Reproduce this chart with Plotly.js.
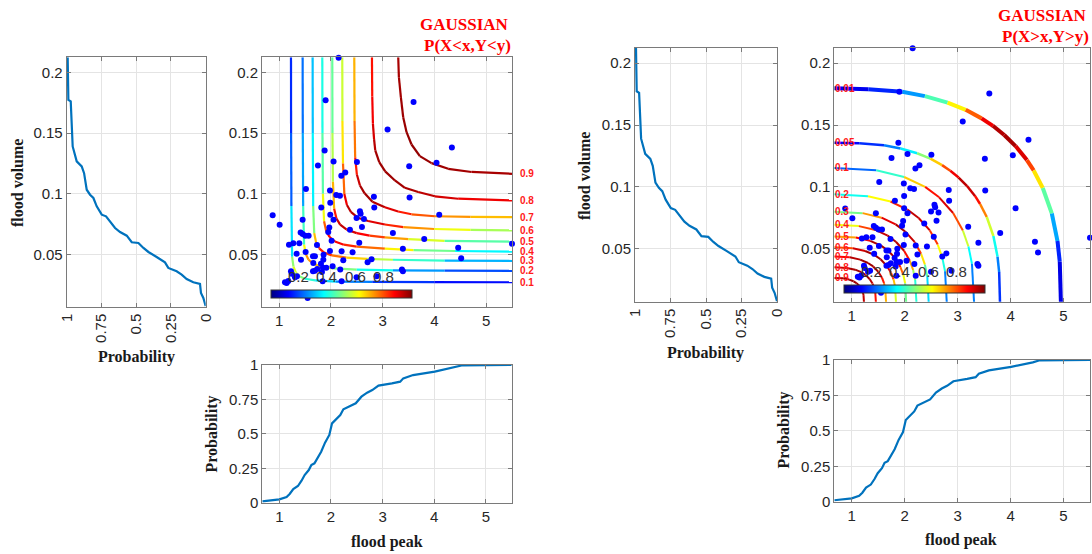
<!DOCTYPE html>
<html><head><meta charset="utf-8">
<script src="https://cdn.plot.ly/plotly-3.0.1.min.js"></script>
<style>html,body{margin:0;padding:0;background:#fff}#chart{width:1092px;height:554px}</style>
</head><body><div id="chart"></div>
<script>
// ---- observed sample (flood peak, flood volume) ----
const peak = [2.15,1.899,3.598,3.096,4.338,1.880,4.042,2.504,2.053,1.751,3.514,2.279,2.202,1.519,1.983,2.105,2.176,2.832,3.521,1.989,1.815,2.839,0.876,1.011,1.989,2.562,2.575,2.053,2.639,2.497,4.094,1.455,2.369,2.601,1.970,1.950,3.199,2.015,1.416,1.455,1.507,1.571,3.804,2.549,1.191,1.275,1.391,5.50,1.732,1.339,1.513,1.655,1.693,1.860,1.983,2.208,2.420,3.392,4.460,1.423,2.240,2.710,2.787,4.518,1.661,1.809,1.855,1.655,1.693,1.848,1.912,1.828,2.182,3.373,3.392,1.230,1.243,1.346,1.307,1.114,1.146,1.178,1.841,2.208,2.497,2.884,1.552,0.670,2.034,1.738];
const volume = [0.212,0.1770,0.1756,0.1529,0.1381,0.1356,0.1255,0.1261,0.1266,0.1233,0.1228,0.1176,0.1148,0.1039,0.1028,0.0990,0.0984,0.0976,0.0970,0.0927,0.0888,0.0888,0.0825,0.0746,0.0828,0.0856,0.0836,0.0787,0.0793,0.0801,0.0828,0.0787,0.0705,0.0727,0.0724,0.0686,0.0678,0.0615,0.0683,0.0670,0.0656,0.0656,0.0628,0.0598,0.0582,0.0593,0.0593,0.0590,0.0579,0.0508,0.0522,0.0486,0.0486,0.0500,0.0530,0.0527,0.0519,0.0549,0.0557,0.0459,0.0453,0.0437,0.0462,0.0470,0.0431,0.0426,0.0459,0.0363,0.0368,0.0393,0.0393,0.0357,0.0377,0.0377,0.0363,0.0363,0.0344,0.0322,0.0314,0.0273,0.0267,0.0284,0.0281,0.0281,0.0314,0.0322,0.0144,0.0070,0.0404,0.0383];

// ---- empirical marginal distributions ----
const peakCdfX = [0.67,1.0,1.14,1.20,1.27,1.36,1.43,1.49,1.57,1.62,1.68,1.73,1.81,1.885,1.968,2.02,2.10,2.18,2.24,2.35,2.48,2.59,2.70,2.80,2.92,3.18,3.34,3.40,3.59,4.01,4.17,4.42,4.55,5.5];
const peakCdfP = [0.01,0.024,0.041,0.063,0.099,0.121,0.160,0.201,0.237,0.274,0.286,0.322,0.370,0.436,0.492,0.576,0.605,0.637,0.678,0.697,0.722,0.770,0.799,0.818,0.850,0.867,0.879,0.903,0.927,0.952,0.964,0.983,0.998,1.0];
const volCdfP = [0.993,0.988,0.971,0.957,0.928,0.892,0.875,0.856,0.832,0.808,0.784,0.748,0.717,0.688,0.652,0.616,0.568,0.532,0.484,0.448,0.412,0.353,0.293,0.269,0.209,0.173,0.137,0.089,0.041,0.034,0.017,0.0];
const volCdfY = [0.2123,0.1773,0.176,0.139,0.1267,0.1226,0.117,0.1034,0.0993,0.0966,0.0897,0.0829,0.0815,0.0774,0.0719,0.0686,0.0656,0.0602,0.0596,0.0555,0.0522,0.0481,0.0437,0.0391,0.0363,0.0336,0.0300,0.0273,0.0259,0.0186,0.0144,0.0076];

// ---- P(X<x,Y<y) contours ----
const cdfLevels = ['0.1','0.2','0.3','0.4','0.5','0.6','0.7','0.8','0.9'];
const cdfX = [
 [1.23,1.232,1.238,1.252,1.278,1.32,1.39,1.5,1.7,2.1,2.8,4.0,5.5],
 [1.455,1.458,1.465,1.483,1.515,1.57,1.66,1.8,2.05,2.5,3.2,4.2,5.5],
 [1.648,1.651,1.659,1.679,1.715,1.775,1.87,2.02,2.3,2.7,3.2,4.2,5.5],
 [1.835,1.838,1.847,1.869,1.91,1.975,2.08,2.25,2.5,3.044,3.6,4.4,5.5],
 [2.028,2.031,2.04,2.064,2.108,2.18,2.3,2.5,2.75,3.044,3.5,4.2,5.5],
 [2.221,2.224,2.235,2.261,2.311,2.391,2.521,2.72,3.044,3.4,4.0,4.7,5.5],
 [2.453,2.458,2.47,2.503,2.563,2.653,2.803,3.044,3.30,3.559,4.01,4.7,5.5],
 [2.794,2.80,2.813,2.835,2.858,2.935,3.05,3.238,3.43,3.688,4.01,4.46,5.5],
 [3.302,3.315,3.353,3.398,3.463,3.559,3.72,3.945,4.267,4.718,5.5]];
const cdfY = [
 [0.2123,0.15,0.09,0.0482,0.0402,0.0356,0.0322,0.0302,0.0288,0.0279,0.0276,0.0274,0.0273],
 [0.2123,0.15,0.09,0.0581,0.0505,0.0458,0.0426,0.0403,0.0387,0.0377,0.0371,0.0368,0.0366],
 [0.2123,0.15,0.09,0.0677,0.0599,0.0552,0.0517,0.0494,0.0476,0.0466,0.0458,0.0451,0.0448],
 [0.2123,0.15,0.1,0.0775,0.0695,0.0645,0.0608,0.0582,0.0566,0.0549,0.0538,0.053,0.0525],
 [0.2123,0.15,0.11,0.0877,0.0797,0.0747,0.0707,0.0677,0.0657,0.0642,0.0627,0.0614,0.0607],
 [0.2123,0.16,0.125,0.0999,0.0909,0.0849,0.0804,0.0777,0.0748,0.0727,0.0711,0.0703,0.0699],
 [0.2123,0.16,0.13,0.1159,0.1069,0.1004,0.0935,0.089,0.0855,0.0832,0.0816,0.081,0.0809],
 [0.2123,0.18,0.1576,0.145,0.1357,0.1261,0.1185,0.111,0.105,0.1015,0.098,0.096,0.0946],
 [0.2123,0.1959,0.1795,0.163,0.1507,0.1406,0.131,0.1253,0.1206,0.118,0.1165]];
const cdfC = [
 [0.15,0.18,0.25,0.45,0.58,0.6,0.55,0.45,0.38,0.3,0.2,0.15,0.12],
 [0.22,0.25,0.32,0.55,0.7,0.75,0.72,0.65,0.55,0.45,0.33,0.22,0.18],
 [0.3,0.33,0.4,0.6,0.78,0.85,0.85,0.8,0.72,0.62,0.5,0.35,0.25],
 [0.38,0.42,0.5,0.72,0.85,0.9,0.9,0.86,0.82,0.72,0.55,0.42,0.32],
 [0.45,0.5,0.6,0.8,0.9,0.94,0.93,0.9,0.85,0.78,0.66,0.52,0.4],
 [0.55,0.6,0.7,0.85,0.93,0.95,0.95,0.93,0.88,0.8,0.66,0.56,0.52],
 [0.68,0.72,0.8,0.9,0.95,0.97,0.96,0.93,0.88,0.82,0.76,0.7,0.68],
 [0.85,0.87,0.9,0.93,0.96,0.97,0.97,0.97,0.96,0.95,0.93,0.9,0.88],
 [0.96,0.96,0.97,0.97,0.98,0.98,0.98,0.97,0.97,0.96,0.96]];

// ---- P(X>x,Y>y) contours ----
const survLevels = ['0.01','0.05','0.1','0.2','0.3','0.4','0.5','0.6','0.7','0.8','0.9'];
const survX = [
 [0.67,1.312,1.954,2.382,2.81,3.152,3.452,3.666,3.88,4.094,4.308,4.436,4.608,4.779,4.886,4.929,4.95],
 [0.67,1.14,1.609,1.922,2.235,2.485,2.705,2.861,3.018,3.174,3.331,3.424,3.55,3.675,3.753,3.784,3.80],
 [0.67,1.462,1.99,2.386,2.65,2.914,3.099,3.204,3.27,3.31],
 [0.67,1.307,1.732,2.051,2.263,2.475,2.624,2.709,2.762,2.794],
 [0.67,1.205,1.562,1.829,2.007,2.186,2.31,2.382,2.426,2.453],
 [0.67,1.135,1.446,1.678,1.833,1.988,2.097,2.159,2.198,2.221],
 [0.67,1.077,1.349,1.553,1.689,1.824,1.919,1.974,2.008,2.028],
 [0.67,1.02,1.253,1.427,1.544,1.66,1.742,1.788,1.818,1.835],
 [0.67,0.963,1.159,1.306,1.404,1.501,1.57,1.609,1.633,1.648],
 [0.67,0.906,1.063,1.18,1.259,1.337,1.392,1.424,1.443,1.455],
 [0.67,0.838,0.95,1.034,1.09,1.146,1.185,1.208,1.222,1.23]];
const survY = [
 [0.1798,0.1789,0.1769,0.1734,0.1682,0.1623,0.1554,0.1494,0.142,0.133,0.1217,0.1133,0.0991,0.0785,0.0562,0.0395,0.007],
 [0.1358,0.1352,0.1336,0.1311,0.1272,0.1228,0.1176,0.1131,0.1076,0.1009,0.0925,0.0862,0.0757,0.0603,0.0437,0.0312,0.007],
 [0.1153,0.1135,0.108,0.100,0.0916,0.0789,0.0647,0.0518,0.0379,0.007],
 [0.094,0.0925,0.0882,0.0817,0.0749,0.0648,0.0534,0.043,0.0318,0.007],
 [0.080,0.0788,0.0751,0.0697,0.064,0.0555,0.0459,0.0372,0.0278,0.007],
 [0.0694,0.0683,0.0652,0.0606,0.0557,0.0484,0.0403,0.0328,0.0248,0.007],
 [0.060,0.0591,0.0564,0.0525,0.0484,0.0422,0.0352,0.0289,0.0221,0.007],
 [0.0512,0.0504,0.0482,0.045,0.0415,0.0363,0.0306,0.0253,0.0196,0.007],
 [0.0437,0.0431,0.0412,0.0385,0.0357,0.0314,0.0266,0.0222,0.0175,0.007],
 [0.035,0.0345,0.0331,0.0311,0.0289,0.0256,0.0219,0.0186,0.015,0.007],
 [0.0264,0.0261,0.0251,0.0237,0.0222,0.0199,0.0173,0.015,0.0125,0.007]];
const survC = [
 [0.1,0.12,0.2,0.35,0.55,0.72,0.85,0.93,0.97,0.95,0.87,0.75,0.55,0.38,0.2,0.12,0.08],
 [0.12,0.14,0.2,0.3,0.42,0.6,0.75,0.85,0.93,0.95,0.9,0.82,0.68,0.48,0.3,0.2,0.15],
 [0.15,0.3,0.55,0.8,0.92,0.9,0.7,0.45,0.3,0.2],
 [0.28,0.5,0.75,0.92,0.95,0.9,0.75,0.5,0.3,0.2],
 [0.38,0.6,0.85,0.95,0.96,0.9,0.75,0.55,0.38,0.3],
 [0.5,0.72,0.9,0.96,0.96,0.92,0.8,0.62,0.45,0.38],
 [0.62,0.82,0.94,0.97,0.97,0.93,0.85,0.7,0.52,0.45],
 [0.72,0.88,0.96,0.97,0.97,0.95,0.88,0.75,0.62,0.55],
 [0.82,0.92,0.97,0.97,0.97,0.95,0.9,0.8,0.72,0.68],
 [0.9,0.95,0.97,0.97,0.97,0.96,0.93,0.9,0.87,0.85],
 [0.95,0.97,0.97,0.97,0.97,0.97,0.96,0.95,0.94,0.93]];
const survWidths = [4,2.5,2,2,2,2,2,2,2,2,2];

const cbTicks = [0.2,0.4,0.6,0.8];

// ---- helpers ----
function jet(t){
  const c = v => Math.round(255*Math.max(0,Math.min(1,v)));
  return 'rgb('+c(1.5-Math.abs(4*t-3))+','+c(1.5-Math.abs(4*t-2))+','+c(1.5-Math.abs(4*t-1))+')';
}
const jetScale = [0,0.125,0.25,0.375,0.5,0.625,0.75,0.875,1].map(t=>[t,jet(t)]);
const traces = [];
function addContour(xs,ys,cs,xa,ya,w){
  for(let i=0;i<xs.length-1;i++){
    traces.push({type:'scatter',mode:'lines',x:[xs[i],xs[i+1]],y:[ys[i],ys[i+1]],xaxis:xa,yaxis:ya,
      line:{color:jet((cs[i]+cs[i+1])/2),width:w},hoverinfo:'skip',showlegend:false});
  }
}
const blue = '#0072BD';
traces.push({type:'scatter',mode:'lines',x:volCdfP,y:volCdfY,xaxis:'x',yaxis:'y',line:{color:blue,width:2.2},showlegend:false});
cdfX.forEach((xs,k)=>addContour(xs,cdfY[k],cdfC[k],'x2','y2',2.2));
traces.push({type:'scatter',mode:'markers',x:peak,y:volume,xaxis:'x2',yaxis:'y2',cliponaxis:false,marker:{color:'#0000ff',size:6},showlegend:false});
traces.push({type:'scatter',mode:'lines',x:peakCdfX,y:peakCdfP,xaxis:'x3',yaxis:'y3',line:{color:blue,width:2.2},showlegend:false});
traces.push({type:'scatter',mode:'lines',x:volCdfP,y:volCdfY,xaxis:'x4',yaxis:'y4',line:{color:blue,width:2.2},showlegend:false});
survX.forEach((xs,k)=>addContour(xs,survY[k],survC[k],'x5','y5',survWidths[k]));
traces.push({type:'scatter',mode:'markers',x:peak,y:volume,xaxis:'x5',yaxis:'y5',cliponaxis:false,marker:{color:'#0000ff',size:6},showlegend:false});
traces.push({type:'scatter',mode:'lines',x:peakCdfX,y:peakCdfP,xaxis:'x6',yaxis:'y6',line:{color:blue,width:2.2},showlegend:false});

// colorbars (invisible markers carrying the scale); labels placed on top as annotations
const CB_LEN = 141;
const cbPos = [{xa:'x2',ya:'y2',left:270.5,bottom:298.5},{xa:'x5',ya:'y5',left:843.5,bottom:293.5}];
cbPos.forEach(p=>{
  traces.push({type:'scatter',mode:'markers',x:[peak[0]],y:[volume[0]],xaxis:p.xa,yaxis:p.ya,hoverinfo:'skip',showlegend:false,
    marker:{color:[0],cmin:0,cmax:1,colorscale:jetScale,opacity:0,showscale:true,
      colorbar:{orientation:'h',x:p.left/1092,y:1-p.bottom/554,xanchor:'left',yanchor:'bottom',xref:'paper',yref:'paper',
        lenmode:'pixels',len:CB_LEN,thicknessmode:'pixels',thickness:8,outlinewidth:1,outlinecolor:'#333',
        xpad:0,ypad:0,ticks:'',showticklabels:false}}});
});

// ---- layout ----
const tickFont = {family:'Liberation Sans, Arial',size:15,color:'#262626'};
function ax(o){return Object.assign({showline:true,mirror:'ticks',linecolor:'#7a7a7a',linewidth:1,ticks:'inside',ticklen:4,
  tickcolor:'#7a7a7a',showgrid:true,gridcolor:'#e4e4e4',gridwidth:1,zeroline:false,tickfont:tickFont,fixedrange:true},o);}
const yVol = [0.0072,0.2123];
const xPeak = [0.67,5.5];
const dx = (a,b)=>[a/1092,b/1092];
const dy = (top,bot)=>[1-bot/554,1-top/554];
const layout = {
  width:1092,height:554,margin:{l:0,r:0,t:0,b:0},paper_bgcolor:'#fff',plot_bgcolor:'#fff',showlegend:false,
  xaxis: ax({domain:dx(66.7,205.7),anchor:'y',range:[1,0],tickvals:[0,0.25,0.5,0.75,1],tickangle:-90}),
  yaxis: ax({domain:dy(57.3,306.7),anchor:'x',range:yVol,tickvals:[0.05,0.1,0.15,0.2]}),
  xaxis2: ax({domain:dx(262,512),anchor:'y2',range:xPeak,tickvals:[1,2,3,4,5]}),
  yaxis2: ax({domain:dy(57.3,306.7),anchor:'x2',range:yVol,tickvals:[0.05,0.1,0.15,0.2]}),
  xaxis3: ax({domain:dx(262.3,511.7),anchor:'y3',range:xPeak,tickvals:[1,2,3,4,5]}),
  yaxis3: ax({domain:dy(365,502.7),anchor:'x3',range:[0,1],tickvals:[0,0.25,0.5,0.75,1]}),
  xaxis4: ax({domain:dx(635,777),anchor:'y4',range:[1,0],tickvals:[0,0.25,0.5,0.75,1],tickangle:-90}),
  yaxis4: ax({domain:dy(48,301.7),anchor:'x4',range:yVol,tickvals:[0.05,0.1,0.15,0.2]}),
  xaxis5: ax({domain:dx(834.3,1090),anchor:'y5',range:xPeak,tickvals:[1,2,3,4,5]}),
  yaxis5: ax({domain:dy(48,301.7),anchor:'x5',range:yVol,tickvals:[0.05,0.1,0.15,0.2]}),
  xaxis6: ax({domain:dx(834.3,1090),anchor:'y6',range:xPeak,tickvals:[1,2,3,4,5]}),
  yaxis6: ax({domain:dy(360,501.7),anchor:'x6',range:[0,1],tickvals:[0,0.25,0.5,0.75,1]}),
  annotations:[]
};
// colorbar tick labels above the bars
cbPos.forEach(p=>{
  cbTicks.forEach(t=>layout.annotations.push({text:String(t),xref:'paper',yref:'paper',x:(p.left+t*CB_LEN)/1092,y:1-(p.bottom-22)/554,
    xanchor:'center',yanchor:'middle',showarrow:false,font:{family:'Liberation Sans, Arial',size:15,color:'#333'}}));
});
const serifB = {family:'Liberation Serif, Times New Roman',size:16,color:'#1a1a1a'};
function lab(text,x,y,angle){layout.annotations.push({text:'<b>'+text+'</b>',xref:'paper',yref:'paper',x:x/1092,y:1-y/554,
  xanchor:'center',yanchor:'middle',showarrow:false,textangle:angle||0,font:serifB});}
lab('flood volume',17,183,-90); lab('Probability',136,357); lab('Probability',211.5,434,-90); lab('flood peak',387,542);
lab('flood volume',584,176,-90); lab('Probability',705,353); lab('Probability',783.5,430,-90); lab('flood peak',961,540);
const redT = {family:'Liberation Serif, Times New Roman',size:17,color:'#ff0000'};
function ttl(text,x,y){layout.annotations.push({text:'<b>'+text+'</b>',xref:'paper',yref:'paper',x:x/1092,y:1-y/554,
  xanchor:'right',yanchor:'middle',showarrow:false,font:redT});}
ttl('GAUSSIAN',511,25); ttl('P(X&lt;x,Y&lt;y)',513,45);
ttl('GAUSSIAN',1089,15); ttl('P(X&gt;x,Y&gt;y)',1091,36);
const redS = {family:'Liberation Sans, Arial',size:10,color:'#ff1a1a'};
cdfLevels.forEach((t,k)=>{const ys=cdfY[k];layout.annotations.push({text:'<b>'+t+'</b>',xref:'paper',yref:'y2',x:518/1092,y:ys[ys.length-1],
  xanchor:'left',yanchor:'middle',showarrow:false,font:redS});});
survLevels.forEach((t,k)=>{layout.annotations.push({text:'<b>'+t+'</b>',xref:'x5',yref:'y5',x:survX[k][0],y:survY[k][0],
  xanchor:'left',yanchor:'middle',showarrow:false,font:redS,xshift:-1});});

Plotly.newPlot('chart',traces,layout,{staticPlot:true,displayModeBar:false});
</script></body></html>
